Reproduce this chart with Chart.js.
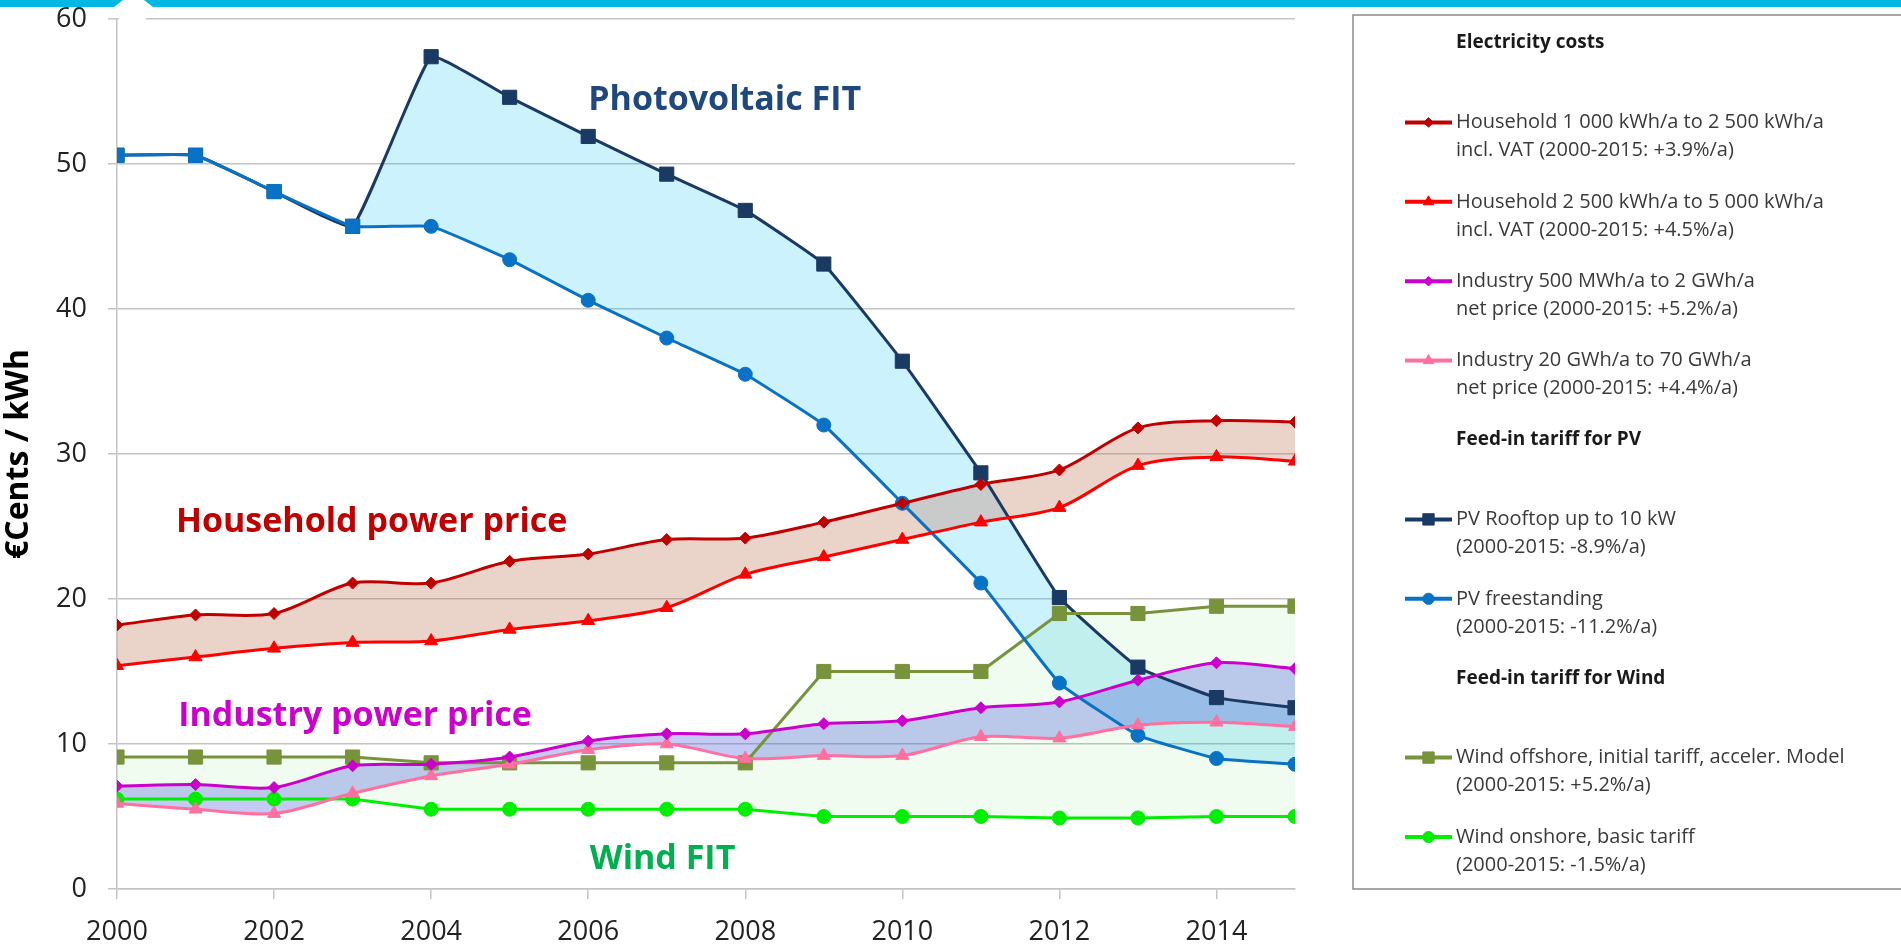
<!DOCTYPE html>
<html>
<head>
<meta charset="utf-8">
<title>Electricity costs and feed-in tariffs</title>
<script src="https://cdn.jsdelivr.net/npm/chart.js@4.4.0/dist/chart.umd.min.js"></script>
<style>
  html, body { margin: 0; padding: 0; background: #fff; }
  #wrap { position: relative; width: 1901px; height: 945px; }
</style>
</head>
<body>
<div id="wrap"><canvas id="chart"></canvas></div>
<script>
// values, €Cents / kWh
const years = [2000, 2001, 2002, 2003, 2004, 2005, 2006, 2007, 2008, 2009, 2010, 2011, 2012, 2013, 2014, 2015];
const householdSmall = [18.2, 18.9, 19.0, 21.1, 21.1, 22.6, 23.1, 24.1, 24.2, 25.3, 26.6, 27.9, 28.9, 31.8, 32.3, 32.2];
const householdLarge = [15.4, 16.0, 16.6, 17.0, 17.1, 17.9, 18.5, 19.4, 21.7, 22.9, 24.1, 25.3, 26.3, 29.2, 29.8, 29.5];
const industryMedium = [7.1, 7.2, 7.0, 8.5, 8.6, 9.1, 10.2, 10.7, 10.7, 11.4, 11.6, 12.5, 12.9, 14.4, 15.6, 15.2];
const industryLarge = [5.9, 5.5, 5.2, 6.6, 7.8, 8.6, 9.6, 10.0, 9.0, 9.2, 9.2, 10.5, 10.4, 11.3, 11.5, 11.2];
const pvRooftop = [50.6, 50.6, 48.1, 45.7, 57.4, 54.6, 51.9, 49.3, 46.8, 43.1, 36.4, 28.7, 20.1, 15.3, 13.2, 12.5];
const pvFreestanding = [50.6, 50.6, 48.1, 45.7, 45.7, 43.4, 40.6, 38.0, 35.5, 32.0, 26.6, 21.1, 14.2, 10.6, 9.0, 8.6];
const windOffshore = [9.1, 9.1, 9.1, 9.1, 8.7, 8.7, 8.7, 8.7, 8.7, 15.0, 15.0, 15.0, 19.0, 19.0, 19.5, 19.5];
const windOnshore = [6.2, 6.2, 6.2, 6.2, 5.5, 5.5, 5.5, 5.5, 5.5, 5.0, 5.0, 5.0, 4.9, 4.9, 5.0, 5.0];

const seriesNames = [
  'Household 1 000 kWh/a to 2 500 kWh/a',
  'Household 2 500 kWh/a to 5 000 kWh/a',
  'Industry 500 MWh/a to 2 GWh/a',
  'Industry 20 GWh/a to 70 GWh/a',
  'PV Rooftop up to 10 kW',
  'PV freestanding',
  'Wind offshore, initial tariff, acceler. Model',
  'Wind onshore, basic tariff'
];
const seriesNotes = [
  'incl. VAT (2000-2015: +3.9%/a)',
  'incl. VAT (2000-2015: +4.5%/a)',
  'net price (2000-2015: +5.2%/a)',
  'net price (2000-2015: +4.4%/a)',
  '(2000-2015: -8.9%/a)',
  '(2000-2015: -11.2%/a)',
  '(2000-2015: +5.2%/a)',
  '(2000-2015: -1.5%/a)'
];
const legendGroups = ['Electricity costs', 'Feed-in tariff for PV', 'Feed-in tariff for Wind'];
const bandLabels = ['Photovoltaic FIT', 'Household power price', 'Industry power price', 'Wind FIT'];

const FONT = "'Open Sans', sans-serif";
const GRID = '#c4c4c4';

const pts = (vals) => vals.map((v, i) => ({ x: years[i], y: v }));

function line(label, vals, color, style, radius, extra) {
  return Object.assign({
    label: label,
    data: pts(vals),
    borderColor: color,
    backgroundColor: color,
    pointBackgroundColor: color,
    pointBorderColor: color,
    pointStyle: style,
    pointRadius: radius,
    pointBorderWidth: 1,
    borderWidth: 3,
    tension: 0.3,
    fill: false
  }, extra || {});
}

const datasets = [
  line(seriesNames[0], householdSmall, '#C00000', 'rectRot', 6, { fill: '+1', backgroundColor: 'rgba(190,120,90,0.32)' }),
  line(seriesNames[1], householdLarge, '#FF0000', 'triangle', 7.5),
  line(seriesNames[2], industryMedium, '#CC00CC', 'rectRot', 6, { fill: '+1', backgroundColor: 'rgba(60,80,220,0.3)' }),
  line(seriesNames[3], industryLarge, '#FF6F9F', 'triangle', 7.5),
  line(seriesNames[4], pvRooftop, '#1B3A63', 'rect', 10, { fill: '+1', backgroundColor: 'rgba(0,190,245,0.2)', tension: 0.1, order: 1 }),
  line(seriesNames[5], pvFreestanding, '#0A72C4', years.map((y, i) => i < 4 ? 'rect' : 'circle'), years.map((y, i) => i < 4 ? 10 : 7), { tension: 0.1 }),
  line(seriesNames[6], windOffshore, '#77933C', 'rect', 10, { fill: '+1', backgroundColor: 'rgba(0,200,0,0.06)', tension: 0 }),
  line(seriesNames[7], windOnshore, '#00EE00', 'circle', 7, { tension: 0 })
];

// free text in the plot and the boxed legend on the right
const overlay = {
  id: 'overlay',
  afterDraw(chart) {
    const ctx = chart.ctx;
    const xs = chart.scales.x, ys = chart.scales.y;
    ctx.save();

    // cyan band along the top
    ctx.fillStyle = '#00B8E2';
    ctx.fillRect(0, 0, chart.width, 7);
    ctx.fillStyle = '#fff';
    ctx.beginPath();
    ctx.moveTo(114, 7); ctx.lineTo(123, 0); ctx.lineTo(144, 0); ctx.lineTo(153, 7);
    ctx.closePath(); ctx.fill();
    ctx.fillRect(119, 7, 27, 15);

    // band captions, anchored in data units (left edge, baseline)
    const anchors = [
      { year: 2006.0, value: 53.7, color: '#1F497D' },
      { year: 2000.75, value: 24.6, color: '#C00000' },
      { year: 2000.78, value: 11.25, color: '#CC00CC' },
      { year: 2006.02, value: 1.35, color: '#00B050' }
    ];
    ctx.font = 'bold 34px ' + FONT;
    ctx.textAlign = 'left';
    ctx.textBaseline = 'alphabetic';
    bandLabels.forEach((t, i) => {
      ctx.fillStyle = anchors[i].color;
      ctx.fillText(t, xs.getPixelForValue(anchors[i].year), ys.getPixelForValue(anchors[i].value));
    });

    // legend box
    const L = { left: 1353, top: 15, bottom: 889, row0: 43, step: 79.4, gap: 28, s0: 1405, s1: 1452, tx: 1456 };
    ctx.strokeStyle = '#8a8a8a';
    ctx.lineWidth = 1.5;
    ctx.strokeRect(L.left, L.top, chart.width - L.left + 10, L.bottom - L.top);

    ctx.textBaseline = 'middle';
    const groupAt = [0, 4, 6];
    let row = 0;
    seriesNames.forEach((name, i) => {
      const g = groupAt.indexOf(i);
      if (g >= 0) {
        ctx.font = 'bold 19px ' + FONT;
        ctx.fillStyle = '#1a1a1a';
        ctx.fillText(legendGroups[g], L.tx, L.row0 + row * L.step);
        row++;
      }
      const y = L.row0 + row * L.step;
      const ds = datasets[i];
      ctx.strokeStyle = ds.borderColor;
      ctx.lineWidth = 4;
      ctx.beginPath(); ctx.moveTo(L.s0, y); ctx.lineTo(L.s1, y); ctx.stroke();
      const style = Array.isArray(ds.pointStyle) ? ds.pointStyle[ds.pointStyle.length - 1] : ds.pointStyle;
      const r = Array.isArray(ds.pointRadius) ? ds.pointRadius[ds.pointRadius.length - 1] : ds.pointRadius;
      ctx.fillStyle = ds.borderColor;
      ctx.lineWidth = 1;
      Chart.helpers.drawPoint(ctx, { pointStyle: style, radius: r * 0.8, rotation: 0, borderWidth: 1 }, (L.s0 + L.s1) / 2, y);
      ctx.font = '20px ' + FONT;
      ctx.fillStyle = '#3a3a3a';
      ctx.fillText(name, L.tx, y);
      ctx.fillText(seriesNotes[i], L.tx, y + L.gap);
      row++;
    });
    ctx.restore();
  }
};

new Chart(document.getElementById('chart'), {
  type: 'line',
  data: { datasets: datasets },
  options: {
    responsive: true,
    maintainAspectRatio: false,
    animation: false,
    layout: { padding: { top: 19, right: 606, left: 0, bottom: 0 } },
    plugins: {
      legend: { display: false },
      tooltip: { enabled: false },
      filler: { drawTime: 'beforeDatasetsDraw' }
    },
    scales: {
      x: {
        type: 'linear',
        min: 2000,
        max: 2015,
        afterFit(scale) { scale.height = 56; },
        grid: { drawOnChartArea: false, drawTicks: true, tickLength: 10, color: GRID, lineWidth: 1.5 },
        border: { color: GRID, width: 1.5 },
        ticks: {
          stepSize: 2,
          includeBounds: false,
          autoSkip: false,
          maxRotation: 0,
          padding: 17,
          color: '#222',
          font: { family: FONT, size: 27 },
          callback: (v) => String(v)
        }
      },
      y: {
        min: 0,
        max: 60,
        afterFit(scale) {
          scale.width = 117;
          scale.paddingTop = 0;
          scale.paddingBottom = 0;
        },
        grid: { color: GRID, lineWidth: 1.5, tickLength: 9 },
        border: { color: GRID, width: 1.5 },
        ticks: { stepSize: 10, padding: 21, color: '#222', font: { family: FONT, size: 27 } },
        title: {
          display: true,
          text: '€Cents / kWh',
          color: '#000',
          font: { family: FONT, size: 32, weight: 'bold' },
          padding: { top: 0, bottom: 0 }
        }
      }
    }
  },
  plugins: [overlay]
});
</script>
</body>
</html>
